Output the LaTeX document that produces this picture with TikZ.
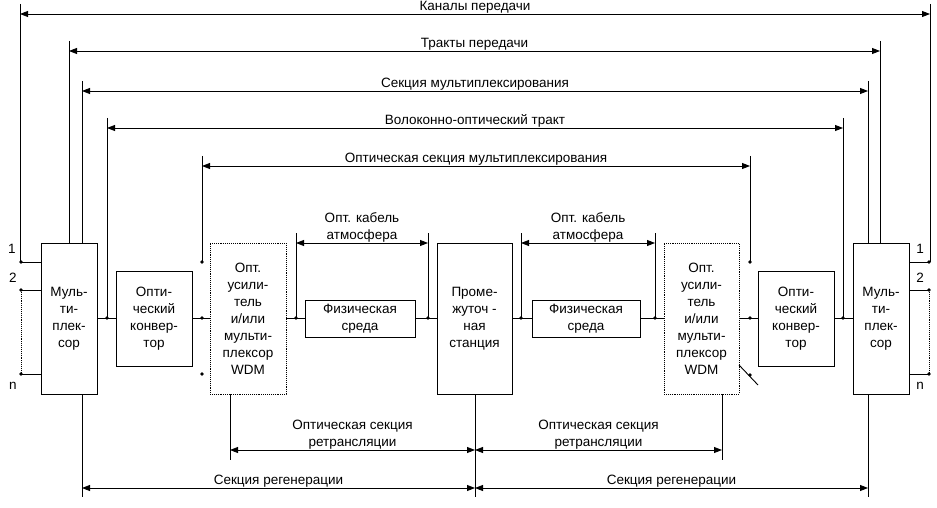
\documentclass[tikz,border=0pt]{standalone}
\usepackage{fontspec}
\setmainfont{Liberation Sans}
\usetikzlibrary{arrows.meta}
\begin{document}
\begin{tikzpicture}[x=1pt,y=-1pt,line width=0.9pt,font=\fontsize{13.5}{17}\selectfont,
 box/.style={draw,align=center,inner sep=0pt},
 dbox/.style={box,densely dotted},
 dim/.style={{Triangle[length=8pt,width=6pt]}-{Triangle[length=8pt,width=6pt]}},
 lb/.style={above,inner sep=0.5pt,align=center},
 dt/.style={circle,fill,inner sep=1.3pt}]
\useasboundingbox (0,0) rectangle (937,508);
% boxes
\node[box,minimum width=56pt,minimum height=151pt] (mL) at (69,318.5) {Муль-\\ти-\\плек-\\сор};
\node[box,minimum width=76pt,minimum height=95pt] (cL) at (154,318.5) {Опти-\\ческий\\конвер-\\тор};
\node[dbox,minimum width=76pt,minimum height=151pt] (aL) at (248,318.5) {Опт.\\усили-\\тель\\и/или\\мульти-\\плексор\\WDM};
\node[box,minimum width=110pt,minimum height=37pt] (pL) at (360,318.5) {Физическая\\среда};
\node[box,minimum width=75pt,minimum height=151pt] (st) at (474.5,318.5) {Проме-\\жуточ -\\ная\\станция};
\node[box,minimum width=108pt,minimum height=37pt] (pR) at (586,318.5) {Физическая\\среда};
\node[dbox,minimum width=75pt,minimum height=151pt] (aR) at (701.5,318.5) {Опт.\\усили-\\тель\\и/или\\мульти-\\плексор\\WDM};
\node[box,minimum width=76pt,minimum height=95pt] (cR) at (796,318.5) {Опти-\\ческий\\конвер-\\тор};
\node[box,minimum width=56pt,minimum height=151pt] (mR) at (881,318.5) {Муль-\\ти-\\плек-\\сор};
\draw (mL) -- (cL) (cL) -- (aL) (aL) -- (pL) (pL) -- (st) (st) -- (pR) (pR) -- (aR) (aR) -- (cR) (cR) -- (mR);
% dots on main line
\foreach \x in {107,202,296,428,521,655,750,843} \node[dt] at (\x,318) {};
\node[dt] at (202,262) {}; \node[dt] at (202,374) {}; \node[dt] at (750,262) {};
\draw (739,365) -- (758,385); \node[dt] at (750,375) {};
% channels
\foreach \y in {262,290,374} {\draw (20,\y) -- (41,\y); \draw (909,\y) -- (930,\y);
 \node[dt] at (21,\y) {}; \node[dt] at (929,\y) {};}
\draw[densely dotted] (21,290) -- (21,374) (929,290) -- (929,374);
\node at (12,249) {1}; \node at (13,278) {2}; \node at (13,386) {n};
\node at (920,249) {1}; \node at (920,278) {2}; \node at (920,386) {n};
% top dims
\draw (20,4) -- (20,262) (930,4) -- (930,262);
\draw[dim] (20,14) -- node[lb] {Каналы передачи} (930,14);
\draw (69,41) -- (69,243) (880,41) -- (880,243);
\draw[dim] (69,51) -- node[lb] {Тракты передачи} (880,51);
\draw (82,81) -- (82,243) (868,81) -- (868,243);
\draw[dim] (82,91) -- node[lb] {Секция мультиплексирования} (868,91);
\draw (107,118) -- (107,318) (843,118) -- (843,318);
\draw[dim] (107,128) -- node[lb] {Волоконно-оптический тракт} (843,128);
\draw (202,156) -- (202,262) (750,156) -- (750,262);
\draw[dim] (202,166) -- node[lb] {Оптическая секция мультиплексирования} (750,166);
\draw (296,233) -- (296,318) (428,233) -- (428,318) (521,233) -- (521,318) (655,233) -- (655,318);
\draw[dim] (296,243) -- node[lb] {Опт. кабель\\атмосфера} (428,243);
\draw[dim] (521,243) -- node[lb] {Опт. кабель\\атмосфера} (655,243);
% bottom dims
\draw (230,394) -- (230,460) (475,394) -- (475,497) (722,394) -- (722,460);
\draw[dim] (230,450) -- node[lb] {Оптическая секция\\ретрансляции} (475,450);
\draw[dim] (475,450) -- node[lb] {Оптическая секция\\ретрансляции} (722,450);
\draw (82,394) -- (82,497) (868,394) -- (868,497);
\draw[dim] (82,488) -- node[lb] {Секция регенерации} (475,488);
\draw[dim] (475,488) -- node[lb] {Секция регенерации} (868,488);
\end{tikzpicture}
\end{document}
